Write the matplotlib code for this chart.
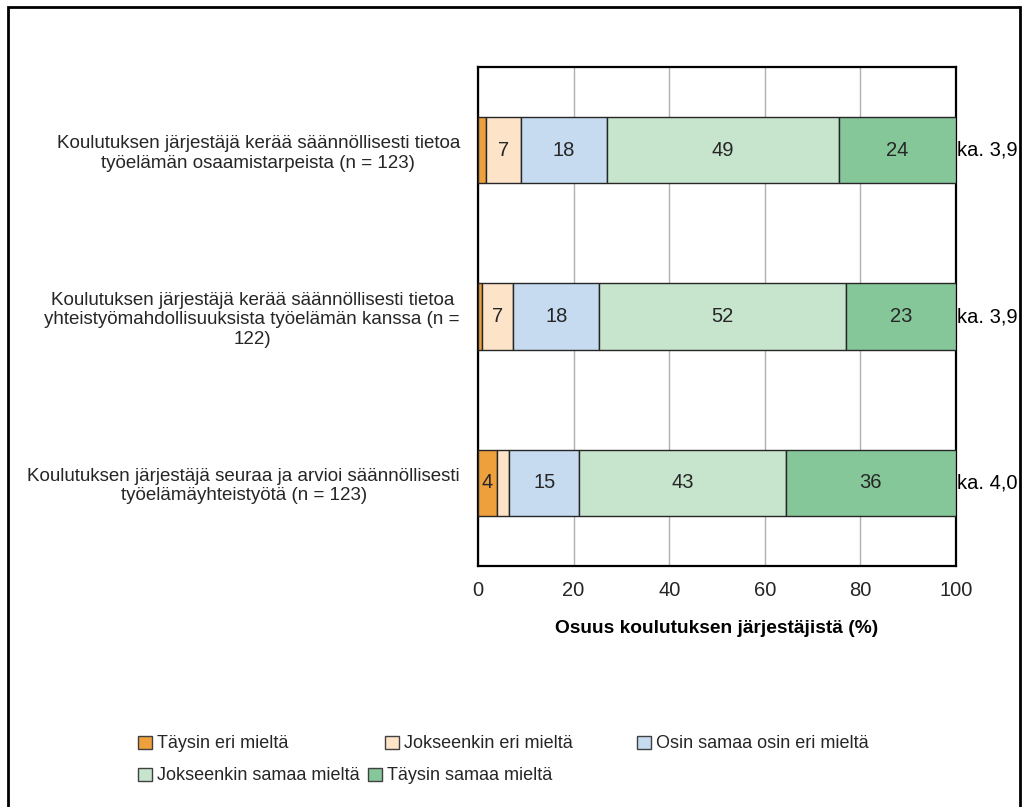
import matplotlib
matplotlib.use("Agg")
import matplotlib.pyplot as plt
from matplotlib.patches import Rectangle, Patch
from matplotlib import font_manager

names = {f.name for f in font_manager.fontManager.ttflist}
FONT = "Liberation Sans Narrow" if "Liberation Sans Narrow" in names else "Liberation Sans"
plt.rcParams['font.family'] = [FONT, 'DejaVu Sans']

categories = [
    "Koulutuksen järjestäjä kerää säännöllisesti tietoa\ntyöelämän osaamistarpeista (n = 123)",
    "Koulutuksen järjestäjä kerää säännöllisesti tietoa\nyhteistyömahdollisuuksista työelämän kanssa (n =\n122)",
    "Koulutuksen järjestäjä seuraa ja arvioi säännöllisesti\ntyöelämäyhteistyötä (n = 123)",
]
series_names = ["Täysin eri mieltä", "Jokseenkin eri mieltä", "Osin samaa osin eri mieltä",
                "Jokseenkin samaa mieltä", "Täysin samaa mieltä"]
taysin_eri = [1.7, 0.8, 4.0]
jokseenkin_eri = [7.2, 6.6, 2.5]
osin = [18.0, 18.0, 14.7]
jokseenkin_samaa = [48.7, 51.6, 43.2]
taysin_samaa = [24.4, 23.0, 35.6]
averages = ["ka. 3,9", "ka. 3,9", "ka. 4,0"]
xticks = [0, 20, 40, 60, 80, 100]
xlabel = "Osuus koulutuksen järjestäjistä (%)"

colors = ["#EEA03C", "#FDE3C8", "#C6DBF0", "#C7E4CD", "#86C79A"]
series = [taysin_eri, jokseenkin_eri, osin, jokseenkin_samaa, taysin_samaa]

fig = plt.figure(figsize=(10.23, 8.07), dpi=100)
ax = fig.add_axes([478/1023, 1-566/807, 478/1023, 499/807])

ypos = list(range(len(categories)))
left = [0.0]*len(categories)
for vals, col, name in zip(series, colors, series_names):
    ax.barh(ypos, vals, left=left, height=0.40, color=col,
            edgecolor="#262626", linewidth=1.0, label=name, zorder=3)
    for y, v, l in zip(ypos, vals, left):
        if v >= 3:
            ax.text(l + v/2, y, f"{round(v):d}", ha="center", va="center",
                    fontsize=14.5, color="#262626", zorder=4)
    left = [a+b for a, b in zip(left, vals)]

for y, t in zip(ypos, averages):
    ax.text(100.3, y, t, ha="left", va="center", fontsize=14.5, color="black")

ax.set_xlim(0, 100)
ax.set_ylim(len(categories)-0.5, -0.5)
ax.set_yticks(ypos)
ax.set_yticklabels(categories, fontsize=13.5, multialignment="center", color="#262626")
ax.set_xticks(xticks)
ax.set_xticklabels([str(x) for x in xticks], fontsize=14.5, color="#262626")
ax.tick_params(axis="x", length=0, pad=11)
ax.tick_params(axis="y", length=0, pad=13)
ax.xaxis.grid(True, color="#B0B0B0", linewidth=1.0, zorder=0)
ax.set_axisbelow(True)
for s in ax.spines.values():
    s.set_color("black")
    s.set_linewidth(1.6)
ax.set_xlabel(xlabel, fontsize=13.8, fontweight="bold", labelpad=14, color="black")

# legend entries placed individually
handles = [Patch(facecolor=c, edgecolor="#404040", linewidth=1.0) for c in colors]
positions = [(138, 744), (385, 744), (637, 744), (138, 776), (368, 776)]
for h, name, (px, py) in zip(handles, series_names, positions):
    fig.legend([h], [name], loc="center left", bbox_to_anchor=(px/1023, 1-py/807),
               frameon=False, fontsize=13, handlelength=0.75, handleheight=0.75,
               handletextpad=0.3, borderpad=0, borderaxespad=0, labelcolor="#262626")

# figure border
fig.patches.append(Rectangle((8/1023, -0.01), (1020-8)/1023, 1-7/807+0.01,
                             transform=fig.transFigure, fill=False,
                             edgecolor="black", linewidth=2.0))

fig.savefig("out.png", dpi=100)
